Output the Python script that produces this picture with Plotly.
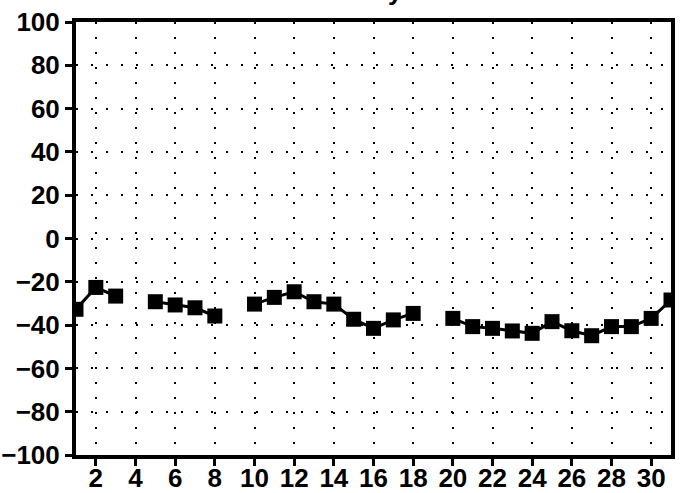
import plotly.graph_objects as go

days = list(range(1, 32))
values = [-32.7, -22.6, -26.6, None, -29.2, -30.7, -32.0, -35.8, None, -30.3,
          -27.2, -24.6, -29.2, -30.3, -37.3, -41.5, -37.6, -34.6, None, -36.9,
          -40.7, -41.5, -42.7, -43.8, -38.4, -42.6, -44.9, -40.7, -40.7, -36.9,
          -28.4]
x_ticks = list(range(2, 31, 2))
y_ticks = list(range(-100, 101, 20))
title_text = "y"

fig = go.Figure()
fig.add_trace(go.Scatter(
    x=days, y=values, mode="lines+markers",
    line=dict(color="black", width=3),
    marker=dict(symbol="square", size=15, color="black"),
    connectgaps=False, showlegend=False,
))

font = dict(family="Liberation Sans, Arial, sans-serif", size=26, color="black", weight="bold")

fig.update_layout(
    width=685, height=493,
    margin=dict(l=76, r=14, t=22, b=38, autoexpand=False),
    paper_bgcolor="white", plot_bgcolor="white",
    font=font,
)
fig.update_xaxes(
    range=[1, 31], tickmode="array", tickvals=x_ticks, ticktext=[str(v) for v in x_ticks],
    showline=True, linecolor="black", linewidth=4, mirror=True,
    ticks="outside", ticklen=7, tickwidth=3, tickcolor="black",
    showgrid=True, gridcolor="black", gridwidth=2, griddash="2px,13px",
    zeroline=False, tickfont=font, automargin=False, ticklabelstandoff=-10,
)
fig.update_yaxes(
    range=[-100, 100], tickmode="array", tickvals=y_ticks,
    ticktext=[str(v).replace("-", "\u2212") for v in y_ticks],
    showline=True, linecolor="black", linewidth=4, mirror=True,
    ticks="outside", ticklen=7, tickwidth=3, tickcolor="black",
    showgrid=True, gridcolor="black", gridwidth=2, griddash="2px,13px",
    zeroline=False, tickfont=font, automargin=False,
)
fig.add_annotation(
    text=title_text, x=(395 - 76) / (671 - 76), xref="paper",
    y=(455 - 8) / (455 - 22), yref="paper",
    yanchor="bottom", showarrow=False, font=font,
)
fig.write_html("out.html", config={"displayModeBar": False},
               post_script="document.body.style.margin='0';")
